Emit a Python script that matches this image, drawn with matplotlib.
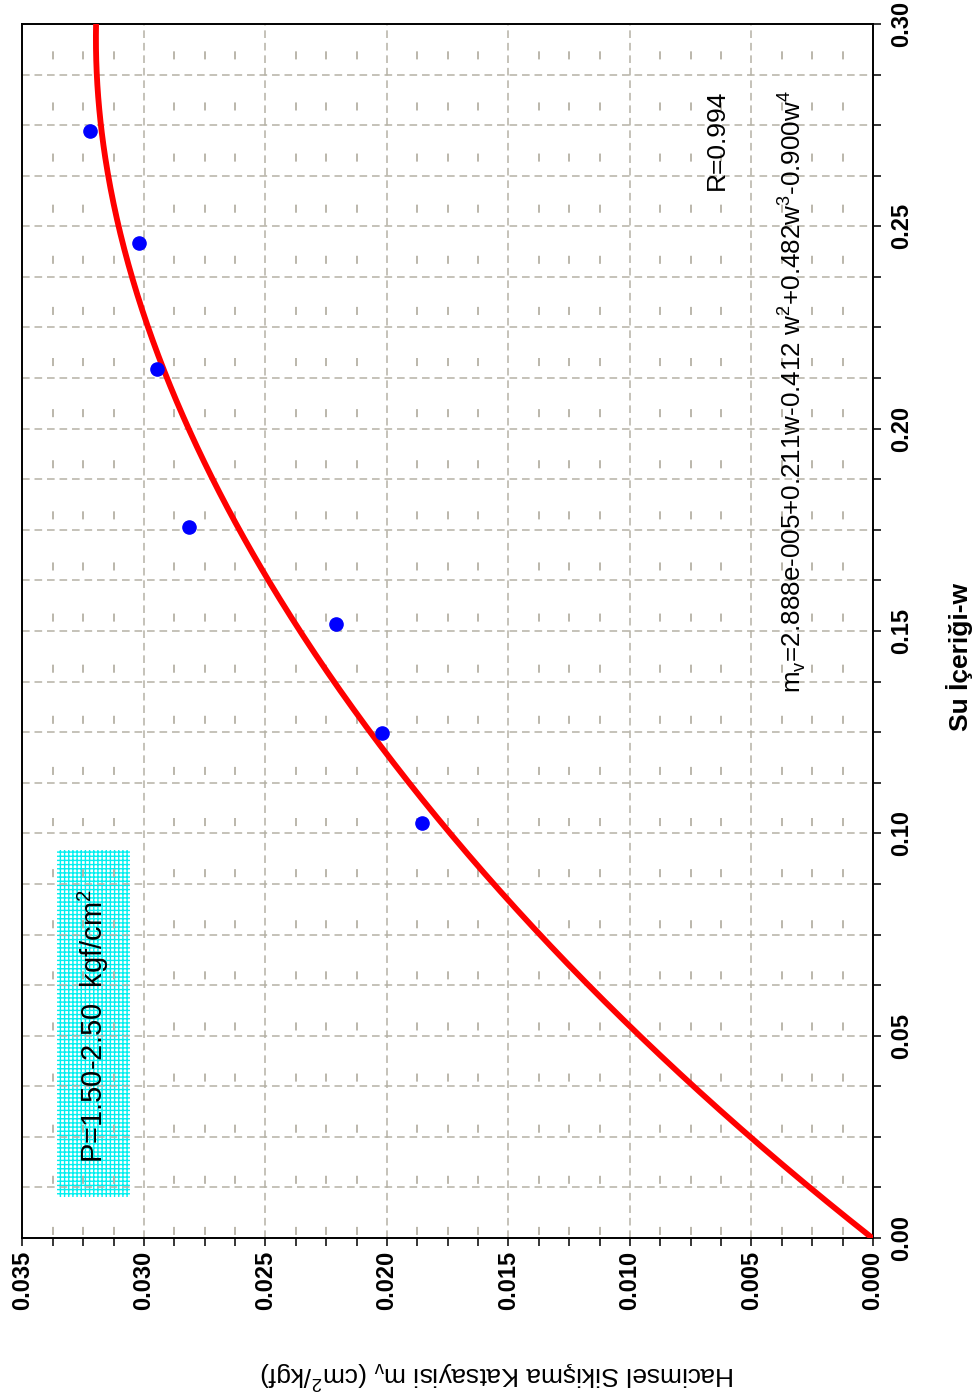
import numpy as np
import matplotlib
matplotlib.use("Agg")
import matplotlib.pyplot as plt
from matplotlib.patches import Rectangle
from matplotlib.ticker import MultipleLocator, FormatStrFormatter

plt.rcParams['font.family'] = ['Liberation Sans', 'DejaVu Sans']
plt.rcParams['mathtext.fontset'] = 'custom'
plt.rcParams['mathtext.rm'] = 'Liberation Sans'
plt.rcParams['lines.scale_dashes'] = False
plt.rcParams['hatch.linewidth'] = 1.0

# measured water content and volume compressibility
w_obs = [0.1026, 0.1248, 0.1517, 0.1757, 0.2147, 0.2459, 0.2736]
mv_obs = [0.01856, 0.02021, 0.02210, 0.02815, 0.02947, 0.03021, 0.03222]

# 4th-order polynomial fit: mv = c0 + c1 w + c2 w^2 + c3 w^3 + c4 w^4
fit_coefs = [2.888e-5, 0.211, -0.412, 0.482, -0.900]
r_value = 0.994
w_range = (0.0, 0.30)
mv_range = (0.0, 0.035)

w_fit = np.linspace(w_range[0], w_range[1], 400)
mv_fit = sum(c * w_fit ** i for i, c in enumerate(fit_coefs))

fig = plt.figure(figsize=(9.78, 14.0), dpi=100)
ax = fig.add_axes([0.0230, 0.1157, 0.8696, 0.8672])

grid_col = '#b5b1a5'

# rotated layout: mv runs right-to-left along the bottom, w upward on the right
ax.set_xlim(mv_range[1], mv_range[0])
ax.set_ylim(*w_range)
ax.yaxis.tick_right()
ax.xaxis.set_major_locator(MultipleLocator(0.005))
ax.xaxis.set_minor_locator(MultipleLocator(0.00125))
ax.yaxis.set_major_locator(MultipleLocator(0.05))
ax.yaxis.set_minor_locator(MultipleLocator(0.0125))
ax.xaxis.set_major_formatter(FormatStrFormatter('%.3f'))
ax.yaxis.set_major_formatter(FormatStrFormatter('%.2f'))

ax.tick_params(axis='both', which='both', direction='out', length=5.5,
               width=1.1, color='black')
ax.tick_params(axis='both', which='major', labelsize=17, labelrotation=90)
ax.tick_params(axis='x', which='major', pad=4)
ax.tick_params(axis='y', which='major', pad=7)
for lbl in ax.get_xticklabels() + ax.get_yticklabels():
    lbl.set_fontweight('bold')
for lbl in ax.get_yticklabels():
    lbl.set_va('center')

for sp in ax.spines.values():
    sp.set_linewidth(1.4)

# dashed grid
ax.grid(True, which='both', axis='y', color=grid_col, lw=1.1,
        ls=(0, (5.5, 3.5)))
ax.grid(True, which='major', axis='x', color=grid_col, lw=1.1,
        ls=(0, (5.5, 3.5)))
ax.grid(True, which='minor', axis='x', color=grid_col, lw=1.3,
        ls=(34.6, (5.8, 31.0)))

# fitted curve and measurements
ax.plot(mv_fit, w_fit, color='red', lw=4.2, solid_capstyle='round', zorder=3)
ax.plot(mv_obs, w_obs, 'o', color='blue', ms=9.5, mec='blue', zorder=4)

# pressure range box
box = Rectangle((0.0406, 0.0338), 0.0858, 0.2858, transform=ax.transAxes,
                facecolor='white', edgecolor='#00f0f0', hatch='++++', lw=0,
                zorder=1)
ax.add_patch(box)
ax.text(0.0835, 0.3175 - 0.1425, r'P=1.50-2.50  kgf/cm$^{\mathregular{2}}$',
        transform=ax.transAxes, rotation=90, ha='center', va='center',
        fontsize=21, zorder=5)

# fit annotation
ax.text(0.8170, 0.9456, f'R={r_value:.3f}', transform=ax.transAxes,
        rotation=90, ha='center', va='top', fontsize=19)
eq = (r'm$_{\mathregular{v}}$=2.888e-005+0.211w-0.412 w$^{\mathregular{2}}$'
      r'+0.482w$^{\mathregular{3}}$-0.900w$^{\mathregular{4}}$')
ax.text(0.9048, 0.9456, eq, transform=ax.transAxes, rotation=90,
        ha='center', va='top', fontsize=18.7)

# axis titles
fig.text(960 / 978, 1 - 657 / 1400, 'Su İçeriği-w', rotation=90,
         ha='center', va='center', fontsize=19, fontweight='bold')
fig.text(498 / 978, 1 - 1375 / 1400,
         r'Hacimsel Sikişma Katsayisi m$_{\mathregular{v}}$ (cm$^{\mathregular{2}}$/kgf)',
         rotation=180, ha='center', va='center', fontsize=19)

fig.savefig('out.png', dpi=100)
